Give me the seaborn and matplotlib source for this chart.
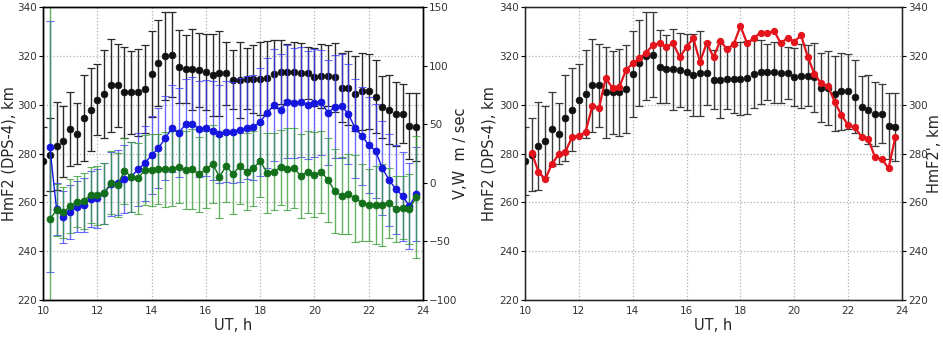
import matplotlib
matplotlib.use("Agg")
import matplotlib.pyplot as plt
import seaborn as sns
import pandas as pd

# ---------------- data ----------------
ut = [10.0, 10.25, 10.5, 10.75, 11.0, 11.25, 11.5, 11.75, 12.0, 12.25, 12.5, 12.75,
      13.0, 13.25, 13.5, 13.75, 14.0, 14.25, 14.5, 14.75, 15.0, 15.25, 15.5, 15.75,
      16.0, 16.25, 16.5, 16.75, 17.0, 17.25, 17.5, 17.75, 18.0, 18.25, 18.5, 18.75,
      19.0, 19.25, 19.5, 19.75, 20.0, 20.25, 20.5, 20.75, 21.0, 21.25, 21.5, 21.75,
      22.0, 22.25, 22.5, 22.75, 23.0, 23.25, 23.5, 23.75]

hmf2_dps4 = [277, 279.5, 283, 285, 290, 288, 294.5, 298, 302, 304.5, 308, 308,
             305, 305, 305, 306.5, 312.5, 317, 320, 320.5, 315.5, 314.5, 314.5, 314.2,
             313.5, 312, 312.8, 312.8, 310.3, 310.2, 310.6, 310.6, 310.6, 311, 312.5, 313.3,
             313.3, 313.3, 313, 313, 311.3, 311.8, 311.8, 311.2, 307, 306.8, 304.5, 305.5,
             305.5, 303.2, 299, 298, 296.2, 296.3, 291.3, 290.8]
hmf2_dps4_err = [14, 15, 18, 14.5, 15, 12.5, 17.5, 17, 14.5, 18, 19, 17,
                 18.5, 17, 18, 18, 17.5, 17.7, 18, 17.5, 15, 14, 16.5, 15,
                 15.5, 16.8, 17.5, 13, 12, 15.6, 12.5, 14, 15, 15, 14, 13,
                 11.5, 12.5, 12.3, 10.5, 12, 13, 12.5, 14, 14.3, 15, 15.3, 15.7,
                 15.4, 15, 12.8, 14, 13, 12, 13.5, 14]

ut_vw = ut[1:]
v_speed = [30.8, -22.4, -29.4, -24.6, -20.4, -18.9, -14.1, -13.2, -9.0, -1.0, 0.1,
           3.2, 5.2, 11.5, 16.6, 23.7, 29.4, 38.0, 46.5, 42.7, 49.9, 50.2, 45.9,
           47.0, 44.5, 41.6, 43.6, 43.1, 45.0, 47.0, 47.3, 52.1, 59.3, 66.4, 62.1,
           69.2, 68.3, 68.7, 66.4, 68.3, 68.7, 59.8, 64.9, 65.5, 58.7, 46.5, 39.9,
           32.3, 27.4, 12.4, 2.4, -5.5, -11.3, -19.8, -9.6]
v_err = [107, 22, 22, 23, 22, 23, 24, 25, 26, 27, 28,
         29, 30, 31, 32, 33, 34, 36, 37, 38, 39, 40, 41,
         41, 42, 42, 43, 43, 44, 44, 45, 46, 47, 48, 48,
         48, 47, 47, 46, 46, 45, 45, 44, 44, 43, 42, 42,
         41, 40, 40, 39, 38, 38, 37, 40]
w_speed = [-31.2, -23.2, -25.2, -19.8, -16.1, -15.3, -10.4, -10.7, -9.0, 0.1, -1.9,
           10.3, 5.2, 3.8, 10.9, 10.9, 11.5, 11.5, 12.0, 13.7, 10.9, 11.5, 7.3,
           11.5, 16.0, 5.2, 14.3, 7.3, 14.3, 9.5, 12.4, 18.9, 8.6, 9.5, 13.2,
           11.5, 12.4, 5.8, 9.5, 7.0, 9.5, 2.4, -7.0, -11.0, -9.6, -13.2, -17.0,
           -18.9, -18.9, -18.9, -17.0, -22.6, -21.2, -22.6, -11.9]
w_err = [250, 22, 22, 23, 22, 24, 24, 25, 26, 27, 27,
         28, 30, 30, 30, 31, 30, 32, 32, 31, 33, 34, 32,
         33, 33, 35, 31, 34, 32, 33, 32, 31, 34, 33, 32,
         35, 34, 36, 35, 36, 35, 36, 36, 33, 34, 37, 33,
         31, 33, 35, 30, 28, 27, 30, 52]

hmf2_prime = [280.4, 272.5, 269.5, 275.7, 279.6, 280.7, 286.8, 287.1, 288.9, 299.4, 298.7,
              311.0, 306.7, 307.1, 314.2, 316.9, 319.0, 321.3, 324.4, 325.1, 323.7, 325.1, 319.4,
              323.7, 327.2, 317.4, 325.4, 319.4, 326.2, 322.7, 324.7, 332.2, 325.1, 327.4, 329.5,
              329.2, 330.2, 325.1, 327.4, 325.8, 328.4, 319.6, 312.5, 308.7, 307.6, 301.2, 295.7,
              291.6, 290.7, 286.8, 285.8, 278.4, 277.8, 273.9, 286.6]

km_ticks = [220, 240, 260, 280, 300, 320, 340]
vw_ticks = [-100, -50, 0, 50, 100, 150]
ut_ticks = [10, 12, 14, 16, 18, 20, 22, 24]

df_black = pd.DataFrame({"UT": ut, "h": hmf2_dps4})
df_v = pd.DataFrame({"UT": ut_vw, "v": v_speed})
df_w = pd.DataFrame({"UT": ut_vw, "w": w_speed})
df_r = pd.DataFrame({"UT": ut_vw, "h": hmf2_prime})

# ---------------- style ----------------
sns.set_style("white")
plt.rcParams["font.family"] = ["DejaVu Sans"]
plt.rcParams["xtick.direction"] = "out"
plt.rcParams["ytick.direction"] = "out"

W, H = 943, 338
fig = plt.figure(figsize=(W / 100, H / 100), dpi=100)
ax1 = fig.add_axes([43 / W, 38 / H, 380 / W, 293 / H])
ax3 = fig.add_axes([525 / W, 38 / H, 377 / W, 293 / H])

BLACK = "#111111"
BLUE = "#1515e0"
GREEN = "#13701a"
RED = "#e3141c"
TICKC = "#333333"
LABFS = 10.5


def style_axis(ax):
    ax.set_xlim(10, 24)
    ax.set_ylim(220, 340)
    ax.set_xticks(ut_ticks)
    ax.set_yticks(km_ticks)
    ax.grid(True, color="#b0b0b0", linestyle=":", linewidth=0.9)
    for s in ax.spines.values():
        s.set_color("black")
        s.set_linewidth(1.0)
    ax.tick_params(axis="both", labelsize=7.5, colors="black", labelcolor=TICKC,
                   length=3, width=0.8, pad=1.5)


def labels(ax, xl_y, yl_x):
    ax.set_xlabel("UT, h", fontsize=LABFS)
    ax.set_ylabel("HmF2 (DPS-4), km", fontsize=LABFS)
    ax.xaxis.set_label_coords(0.5, xl_y)
    ax.yaxis.set_label_coords(yl_x, 0.5)


# ---------------- left panel ----------------
style_axis(ax1)
ax1.errorbar(ut, hmf2_dps4, yerr=hmf2_dps4_err, fmt="none", ecolor="#2a2a2a",
             elinewidth=1.0, capsize=3, capthick=0.9, zorder=2)
sns.scatterplot(data=df_black, x="UT", y="h", ax=ax1, color=BLACK, s=24,
                edgecolor=BLACK, linewidth=0.5, zorder=3, legend=False)
labels(ax1, -0.06, -0.07)

ax2 = ax1.twinx()
ax2.set_ylim(-100, 150)
ax2.set_yticks(vw_ticks)
ax2.errorbar(ut_vw, v_speed, yerr=v_err, fmt="none", ecolor="#3a3aff",
             elinewidth=1.0, capsize=3, capthick=0.8, alpha=0.75, zorder=2)
ax2.errorbar(ut_vw, w_speed, yerr=w_err, fmt="none", ecolor="#2f9a2f",
             elinewidth=1.0, capsize=3, capthick=0.8, alpha=0.75, zorder=2)
sns.lineplot(data=df_v, x="UT", y="v", ax=ax2, color=BLUE, marker="o",
             markersize=4.8, markeredgecolor=BLUE, linewidth=1.0, zorder=3)
sns.lineplot(data=df_w, x="UT", y="w", ax=ax2, color=GREEN, marker="o",
             markersize=4.8, markeredgecolor=GREEN, linewidth=1.0, zorder=4)
ax2.set_xlim(10, 24)
ax2.set_ylim(-100, 150)
ax2.set_xlabel("")
ax2.set_ylabel("V,W  m / sec", fontsize=LABFS)
ax2.yaxis.set_label_coords(1.078, 0.5)
ax2.tick_params(axis="y", labelsize=7.5, colors="black", labelcolor=TICKC,
                length=3, width=0.8, pad=1.5)
ax2.grid(False)
for s in ax2.spines.values():
    s.set_color("black")
    s.set_linewidth(1.0)

# ---------------- right panel ----------------
style_axis(ax3)
ax3.errorbar(ut, hmf2_dps4, yerr=hmf2_dps4_err, fmt="none", ecolor="#3a3a3a",
             elinewidth=1.0, capsize=3, capthick=0.9, zorder=2)
sns.scatterplot(data=df_black, x="UT", y="h", ax=ax3, color=BLACK, s=24,
                edgecolor=BLACK, linewidth=0.5, zorder=3, legend=False)
labels(ax3, -0.06, -0.075)

ax4 = ax3.twinx()
sns.lineplot(data=df_r, x="UT", y="h", ax=ax4, color=RED, marker="o",
             markersize=4.5, markeredgecolor=RED, linewidth=1.6, zorder=4)
ax4.set_xlim(10, 24)
ax4.set_ylim(220, 340)
ax4.set_yticks(km_ticks)
ax4.set_xlabel("")
ax4.set_ylabel("HmF2', km", fontsize=LABFS)
ax4.yaxis.set_label_coords(1.067, 0.5)
ax4.tick_params(axis="y", labelsize=7.5, colors="black", labelcolor=TICKC,
                length=3, width=0.8, pad=1.5)
ax4.grid(False)

fig.savefig("out.png", dpi=100)
